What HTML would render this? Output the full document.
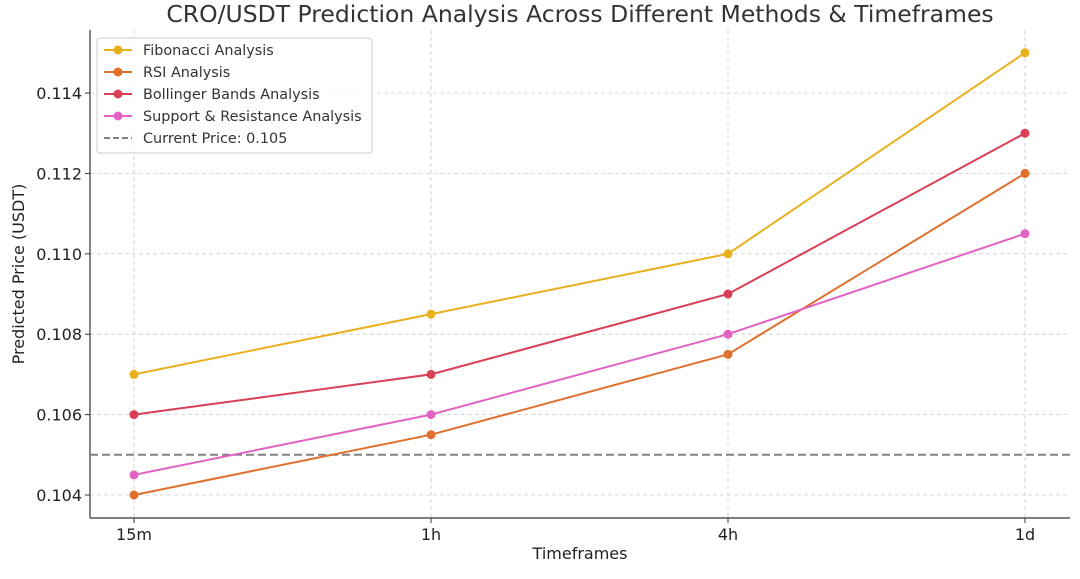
<!DOCTYPE html>
<html><head><meta charset="utf-8"><style>
body{margin:0;background:#fff;}
svg{font-family:"DejaVu Sans","Liberation Sans",sans-serif;}
</style></head><body>
<svg id="chart" width="1080" height="574">
<text x="580" y="22" font-size="23.5" text-anchor="middle" fill="#333">CRO/USDT Prediction Analysis Across Different Methods &amp; Timeframes</text>
<g id="grid"></g><g id="axes"></g><g id="series"></g><g id="legend"></g>
</svg>
<script>
const categories=["15m","1h","4h","1d"];
const fibonacci=[0.107,0.1085,0.110,0.115];
const rsi=[0.104,0.1055,0.1075,0.112];
const bollinger=[0.106,0.107,0.109,0.113];
const supportResistance=[0.1045,0.106,0.108,0.1105];
const currentPrice=0.105;
const yTicks=[0.104,0.106,0.108,0.110,0.112,0.114];
const seriesNames=["Fibonacci Analysis","RSI Analysis","Bollinger Bands Analysis","Support & Resistance Analysis"];
const seriesData=[fibonacci,rsi,bollinger,supportResistance];
const colors=["#e8b01c","#e0702e","#d93f55","#e262c4"];
const NS="http://www.w3.org/2000/svg";
const L=90,R=1070,T=30,B=518;
function x(i){return 134+i*(1025-134)/(categories.length-1);}
function y(v){return 495-(v-0.104)*40200;}
function mk(tag,attrs,parent,text){const e=document.createElementNS(NS,tag);for(const k in attrs)e.setAttribute(k,attrs[k]);if(text!==undefined)e.textContent=text;parent.appendChild(e);return e;}
const grid=document.getElementById('grid'),axes=document.getElementById('axes'),ser=document.getElementById('series'),leg=document.getElementById('legend');
yTicks.forEach(t=>{
 const g=mk('line',{x1:L,x2:R,y1:y(t),y2:y(t),stroke:'#ccc','stroke-dasharray':'4,3','stroke-width':0.8},grid);
 
 
 mk('line',{x1:L-5,x2:L,y1:y(t),y2:y(t),stroke:'#333'},axes);
 const tx=mk('text',{x:L-8,y:y(t)+6,'font-size':16,'text-anchor':'end',fill:'#222'},axes,t.toFixed(3));
 
 
});
categories.forEach((c,i)=>{
 const g=mk('line',{x1:x(i),x2:x(i),y1:T,y2:B,stroke:'#ccc','stroke-dasharray':'4,3','stroke-width':0.8},grid);
 
 
 mk('line',{x1:x(i),x2:x(i),y1:B,y2:B+5,stroke:'#333'},axes);
 const tx=mk('text',{x:x(i),y:B+22,'font-size':16,'text-anchor':'middle',fill:'#222'},axes,c);
 
 
});
mk('line',{x1:L,x2:L,y1:T,y2:B,stroke:'#333','stroke-width':1.2},axes);
mk('line',{x1:L,x2:R,y1:B,y2:B,stroke:'#333','stroke-width':1.2},axes);
const xt=mk('text',{x:580,y:559,'font-size':16,'text-anchor':'middle',fill:'#222'},axes,'Timeframes');


const yt=mk('text',{x:0,y:0,'font-size':16,'text-anchor':'middle',fill:'#222',transform:'translate(24,274) rotate(-90)'},axes,'Predicted Price (USDT)');


const cp=mk('line',{x1:L,x2:R,y1:y(currentPrice),y2:y(currentPrice),stroke:'#808080','stroke-width':2,'stroke-dasharray':'8,4'},ser);


seriesData.forEach((d,s)=>{
 const pl=mk('polyline',{points:d.map((v,i)=>x(i)+','+y(v)).join(' '),fill:'none',stroke:colors[s],'stroke-width':2},ser);
 
 
 d.forEach((v,i)=>{
  const c=mk('circle',{cx:x(i),cy:y(v),r:4.5,fill:colors[s]},ser);
  
  
 });
});
const box=mk('rect',{x:97,y:38,width:275,height:115,rx:3,fill:'#fff','fill-opacity':0.85,stroke:'#ccc'},leg);


const labels=seriesNames.concat(["Current Price: 0.105"]);
labels.forEach((n,k)=>{
 const yy=50+k*22;
 if(k<4){
  mk('line',{x1:104,x2:132,y1:yy,y2:yy,stroke:colors[k],'stroke-width':2},leg);
  mk('circle',{cx:118,cy:yy,r:4.5,fill:colors[k]},leg);
 } else {
  mk('line',{x1:104,x2:132,y1:yy,y2:yy,stroke:'#808080','stroke-width':2,'stroke-dasharray':'6,3'},leg);
 }
 const t=mk('text',{x:143,y:yy+5,'font-size':14.4,fill:'#333'},leg,n);
 
 
});
</script>
</body></html>
